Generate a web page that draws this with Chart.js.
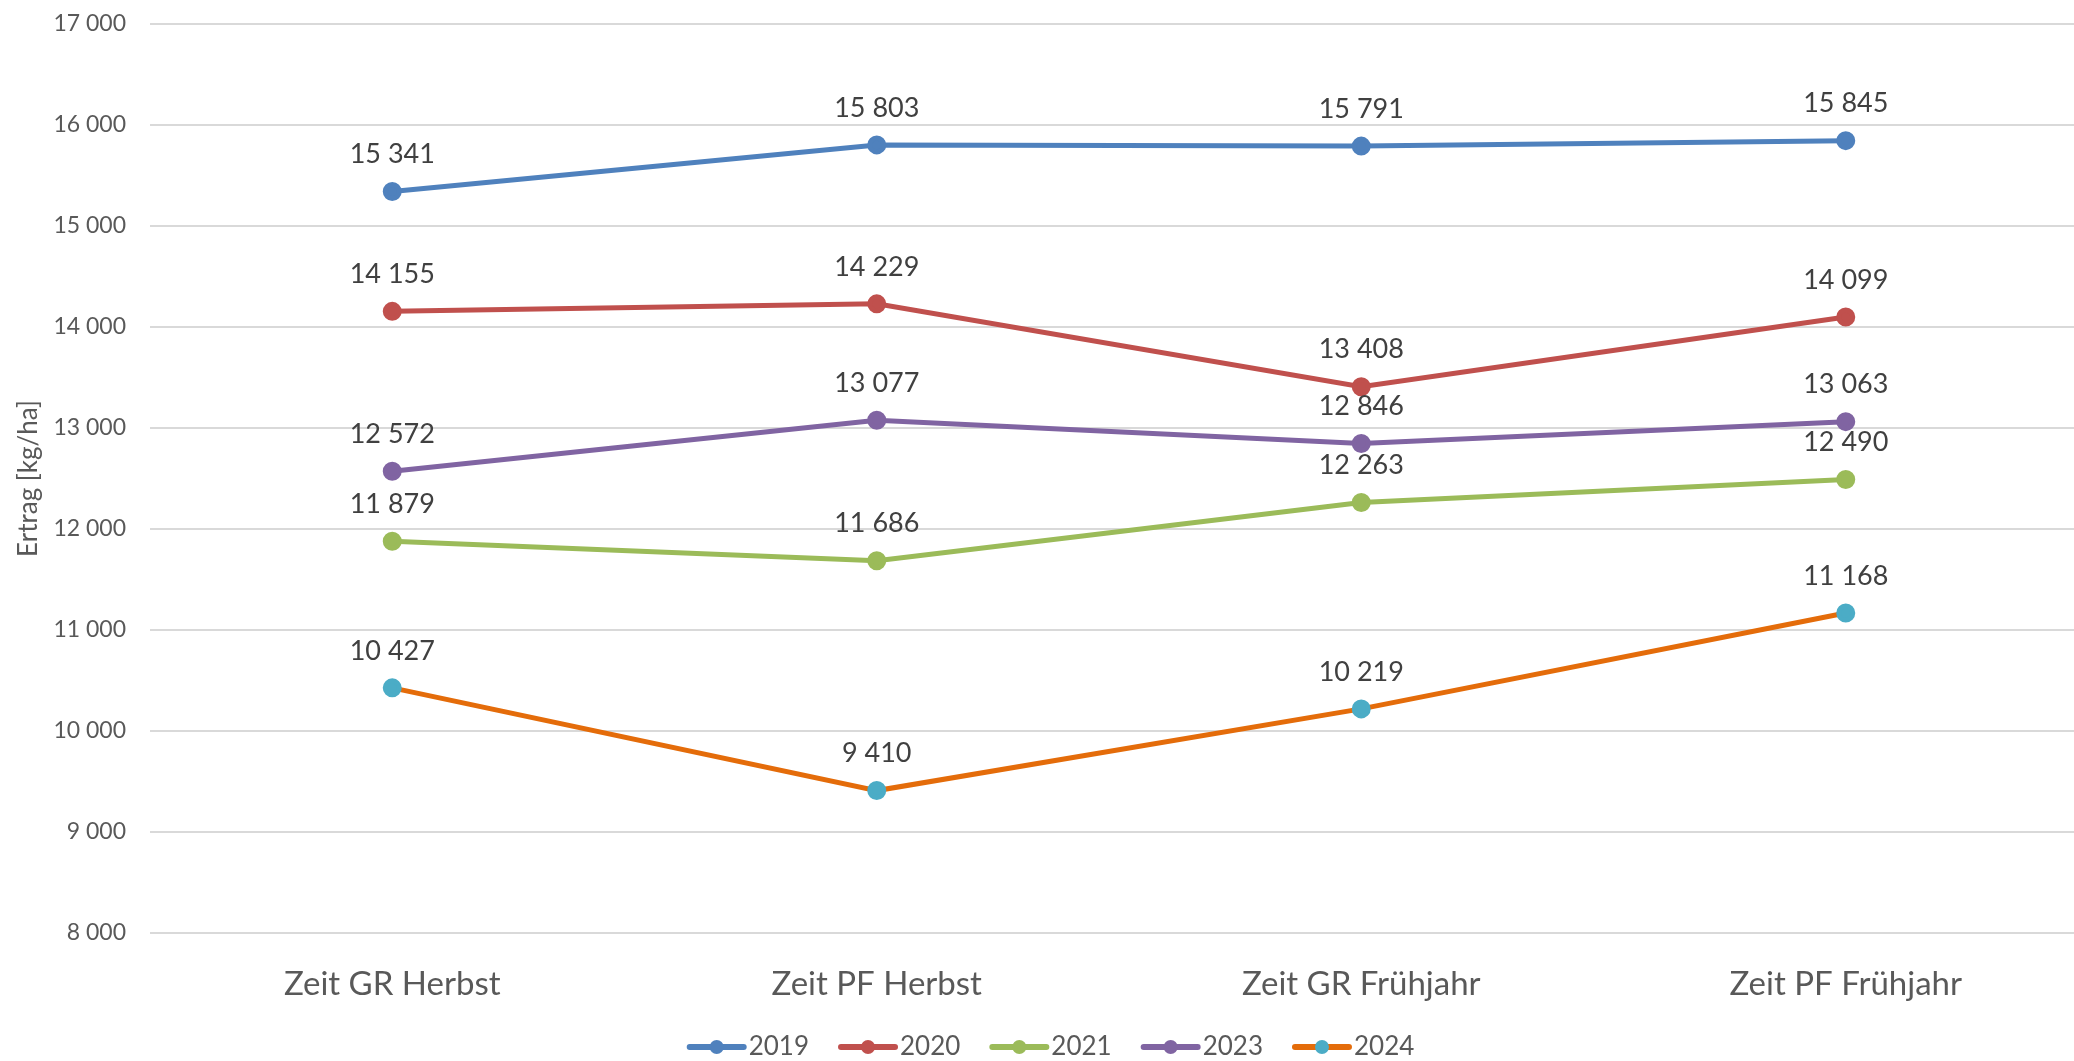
<!DOCTYPE html>
<html>
<head>
<meta charset="utf-8">
<script src="https://cdn.jsdelivr.net/npm/chart.js@4.4.1/dist/chart.umd.min.js"></script>
<style>
  html, body { margin: 0; padding: 0; background: #fff; overflow: hidden; }
  #wrap { width: 2100px; height: 1070px; position: relative; }
</style>
</head>
<body>
<div id="wrap"><canvas id="grafico"></canvas></div>
<script>
// Kategorien (x-Achse)
const zeitpunkte = ['Zeit GR Herbst', 'Zeit PF Herbst', 'Zeit GR Frühjahr', 'Zeit PF Frühjahr'];
// Ertrag je Jahr [kg/ha]
const ertrag2019 = [15341, 15803, 15791, 15845];
const ertrag2020 = [14155, 14229, 13408, 14099];
const ertrag2021 = [11879, 11686, 12263, 12490];
const ertrag2023 = [12572, 13077, 12846, 13063];
const ertrag2024 = [10427, 9410, 10219, 11168];
// y-Achse
const yMin = 8000;
const yMax = 17000;
const yStep = 1000;

const fmt = v => String(v).replace(/\B(?=(\d{3})+(?!\d))/g, ' ');

function serie(label, data, linie, punkt) {
    return {
        label: label,
        data: data,
        borderColor: linie,
        backgroundColor: linie,
        pointBackgroundColor: punkt,
        pointBorderColor: punkt,
        pointRadius: 7,
        pointHoverRadius: 7,
        borderWidth: 5,
        tension: 0
    };
}

// Werte ueber den Punkten
const datenBeschriftung = {
    id: 'datenBeschriftung',
    afterDatasetsDraw(chart) {
        const ctx = chart.ctx;
        ctx.save();
        ctx.font = '27px Lato';
        ctx.fillStyle = '#404040';
        ctx.textAlign = 'center';
        ctx.textBaseline = 'middle';
        chart.data.datasets.forEach((ds, i) => {
            chart.getDatasetMeta(i).data.forEach((pt, j) => {
                ctx.fillText(fmt(ds.data[j]), pt.x, pt.y - 37);
            });
        });
        ctx.restore();
    }
};

// Legendensymbol: Linie mit Kreis, naeher am Text als die Standardbox
const legendenSymbole = {
    id: 'legendenSymbole',
    afterDraw(chart) {
        const lg = chart.legend;
        if (!lg || !lg.legendHitBoxes) return;
        const ctx = chart.ctx;
        ctx.save();
        lg.legendHitBoxes.forEach((hb, i) => {
            const ds = chart.data.datasets[i];
            const y = hb.top + hb.height / 2;
            const x0 = hb.left + 8, x1 = hb.left + 62;
            ctx.strokeStyle = ds.borderColor;
            ctx.lineWidth = 6;
            ctx.lineCap = 'round';
            ctx.beginPath();
            ctx.moveTo(x0, y);
            ctx.lineTo(x1, y);
            ctx.stroke();
            ctx.beginPath();
            ctx.arc((x0 + x1) / 2, y, 7, 0, Math.PI * 2);
            ctx.fillStyle = ds.pointBackgroundColor;
            ctx.fill();
        });
        ctx.restore();
    }
};

new Chart(document.getElementById('grafico'), {
    type: 'line',
    data: {
        labels: zeitpunkte,
        datasets: [
            serie('2019', ertrag2019, '#4f81bd', '#4f81bd'),
            serie('2020', ertrag2020, '#c0504d', '#c0504d'),
            serie('2021', ertrag2021, '#9bbb59', '#9bbb59'),
            serie('2023', ertrag2023, '#8064a2', '#8064a2'),
            serie('2024', ertrag2024, '#e46c0a', '#4bacc6')
        ]
    },
    options: {
        responsive: true,
        maintainAspectRatio: false,
        animation: false,
        layout: { padding: { top: 24, right: 6, bottom: 0, left: 2 } },
        plugins: {
            legend: {
                position: 'bottom',
                labels: {
                    font: { family: 'Lato', size: 26 },
                    color: '#595959',
                    boxWidth: 54,
                    boxHeight: 6,
                    padding: 24,
                    generateLabels: chart => Chart.defaults.plugins.legend.labels.generateLabels(chart)
                        .map(l => Object.assign(l, { lineWidth: 0, fillStyle: 'rgba(0,0,0,0)' }))
                }
            },
            tooltip: { enabled: false }
        },
        scales: {
            x: {
                offset: true,
                grid: { display: false, drawTicks: false },
                border: { display: false },
                ticks: {
                    font: { family: 'Lato', size: 33 },
                    color: '#595959',
                    padding: 32,
                    maxRotation: 0
                },
                afterFit: s => { s.height = 77; }
            },
            y: {
                min: yMin,
                max: yMax,
                grid: { color: '#d9d9d9', lineWidth: 2, drawTicks: true, tickLength: 24, tickColor: 'rgba(0,0,0,0)' },
                border: { display: false },
                ticks: {
                    stepSize: yStep,
                    font: { family: 'Lato', size: 23 },
                    color: '#595959',
                    padding: 0,
                    callback: v => fmt(v)
                },
                title: {
                    display: true,
                    text: 'Ertrag [kg/ha]',
                    font: { family: 'Lato', size: 26 },
                    color: '#595959',
                    padding: { top: 11, bottom: 0 }
                },
                afterFit: s => { s.width = 148; }
            }
        }
    },
    plugins: [datenBeschriftung, legendenSymbole]
});
</script>
</body>
</html>
